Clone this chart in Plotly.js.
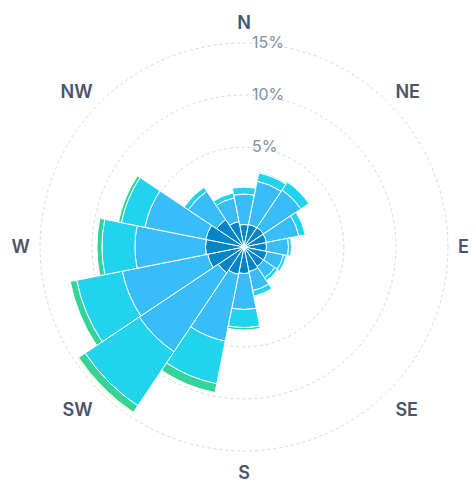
<!DOCTYPE html>
<html><head><meta charset="utf-8">
<script src="https://cdn.plot.ly/plotly-3.0.1.min.js"></script>
<style>html,body{margin:0;padding:0;background:#fff}#chart{width:476px;height:482px}</style>
</head><body><div id="chart"></div>
<script>
// Wind directions (16 sectors) and the labels shown on the angular axis
const directions = ['N','NNE','NE','ENE','E','ESE','SE','SSE','S','SSW','SW','WSW','W','WNW','NW','NNW'];
const angularLabels = ['N','NE','E','SE','S','SW','W','NW'];
const radialTicks = [5, 10, 15];
const radialTickText = ['5%', '10%', '15%'];

// Frequency (%) per speed band, per direction
const band1 = [2.16, 2.21, 2.26, 2.21, 2.16, 2.26, 2.26, 2.40, 2.55, 2.69, 2.98, 3.56, 3.70, 3.75, 3.17, 2.50];
const band2 = [2.93, 4.23, 4.33, 3.17, 2.12, 1.59, 1.30, 1.88, 3.46, 6.54, 9.13, 8.37, 6.78, 5.96, 3.27, 2.31];
const band3 = [0.67, 0.82, 0.91, 0.63, 0.29, 0.29, 0.34, 0.53, 1.73, 4.18, 6.25, 4.47, 3.17, 2.31, 0.48, 0.48];
const band4 = [0.00, 0.10, 0.00, 0.00, 0.00, 0.00, 0.00, 0.00, 0.24, 0.87, 0.77, 0.63, 0.48, 0.29, 0.00, 0.00];
const band5 = [0.00, 0.00, 0.00, 0.00, 0.00, 0.00, 0.00, 0.00, 0.00, 0.10, 0.14, 0.00, 0.00, 0.00, 0.00, 0.00];
const bandNames = ['Band 1', 'Band 2', 'Band 3', 'Band 4', 'Band 5'];
const bandColors = ['#0284c7', '#38bdf8', '#22d3ee', '#34d399', '#d9f99d'];

const RADIAL_MIN = -4.6;
const RADIAL_MAX = 15.1;

const bands = [band1, band2, band3, band4, band5];
let cum = directions.map(() => RADIAL_MIN);
const traces = bands.map((vals, i) => {
  const base = cum.slice();
  cum = cum.map((c, j) => c + vals[j]);
  return {
    type: 'barpolar',
    name: bandNames[i],
    theta: directions,
    r: vals,
    base: base,
    marker: { color: bandColors[i], line: { color: '#ffffff', width: 1 } },
    hoverinfo: 'skip'
  };
});

const layout = {
  width: 476, height: 482,
  margin: { l: 39, r: 27, t: 42, b: 30 },
  paper_bgcolor: '#ffffff',
  showlegend: false,
  font: { family: 'Inter, sans-serif' },
  polar: {
    bgcolor: 'rgba(0,0,0,0)',
    barmode: 'overlay',
    bargap: 0,
    domain: { x: [0, 1], y: [0, 1] },
    radialaxis: {
      range: [RADIAL_MIN, RADIAL_MAX],
      angle: 90,
      tickangle: 90,
      tickmode: 'array',
      tickvals: radialTicks,
      ticktext: radialTickText.map(t => '\u00a0\u2009' + t),
      showline: false,
      ticks: '',
      gridcolor: '#d0d7e6',
      griddash: 'dot',
      gridwidth: 1,
      tickfont: { size: 16, color: '#8190a5', family: 'Inter, sans-serif' }
    },
    angularaxis: {
      type: 'category',
      categoryarray: directions,
      rotation: 90,
      direction: 'clockwise',
      tickmode: 'array',
      tickvals: angularLabels.map(l => directions.indexOf(l)),
      ticktext: angularLabels,
      showgrid: false,
      showline: false,
      ticks: 'outside',
      ticklen: 5,
      tickcolor: 'rgba(0,0,0,0)',
      tickfont: { size: 18, color: '#4a5568', family: 'Inter, sans-serif', weight: 600 }
    }
  }
};

Plotly.newPlot('chart', traces, layout, { staticPlot: true, displayModeBar: false });
</script>
</body></html>
